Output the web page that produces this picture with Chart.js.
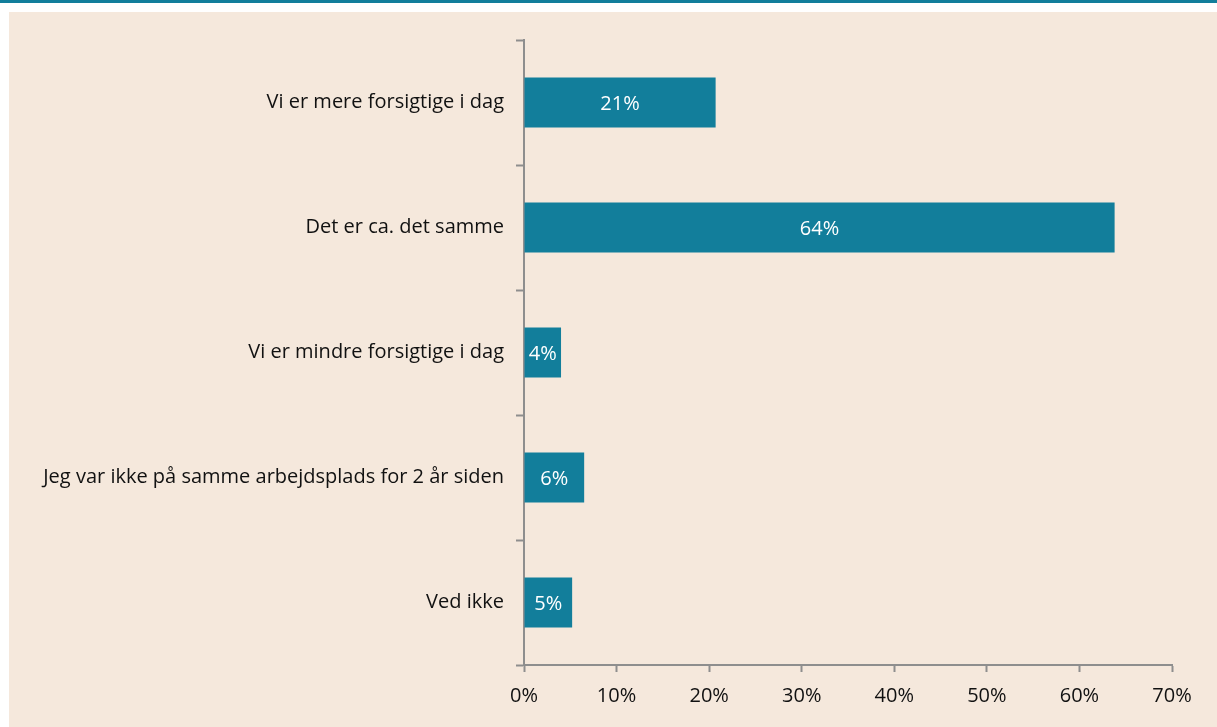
<!DOCTYPE html>
<html>
<head>
<meta charset="utf-8">
<script src="https://cdn.jsdelivr.net/npm/chart.js@4"></script>
<style>
  body { margin: 0; background: #ffffff; }
  #stripe { position: absolute; left: 0; top: 0; width: 1217px; height: 3px; background: #127e9b; }
  #panel { position: absolute; left: 9px; top: 12px; width: 1208px; height: 715px; background: #f5e8dc; }
</style>
</head>
<body>
<div id="stripe"></div>
<div id="panel"><canvas id="myChart" width="1208" height="715"></canvas></div>
<script>
const categories = [
    'Vi er mere forsigtige i dag',
    'Det er ca. det samme',
    'Vi er mindre forsigtige i dag',
    'Jeg var ikke på samme arbejdsplads for 2 år siden',
    'Ved ikke'
];
const values = [20.7, 63.8, 4.0, 6.5, 5.2];
const valueLabels = ['21%', '64%', '4%', '6%', '5%'];
const xTicks = [0, 10, 20, 30, 40, 50, 60, 70];

const FONT = "'Open Sans', 'Noto Sans', sans-serif";

// white text in the middle of each bar
const barLabels = {
    id: 'barLabels',
    afterDatasetsDraw(chart) {
        const c = chart.ctx;
        const meta = chart.getDatasetMeta(0);
        c.save();
        c.fillStyle = '#ffffff';
        c.font = '20px ' + FONT;
        c.textAlign = 'center';
        c.textBaseline = 'middle';
        meta.data.forEach((bar, i) => {
            const x = (bar.x + bar.base) / 2;
            c.fillText(valueLabels[i], x, bar.y + 2);
        });
        c.restore();
    }
};

const ctx = document.getElementById('myChart');

const myChart = new Chart(ctx, {
    type: 'bar',
    data: {
        labels: categories,
        datasets: [{
            data: values,
            backgroundColor: '#127e9b',
            borderWidth: 0,
            barPercentage: 0.4,
            categoryPercentage: 1
        }]
    },
    options: {
        indexAxis: 'y',
        responsive: false,
        animation: false,
        layout: {
            padding: { top: 28, right: 45, left: 0, bottom: 0 }
        },
        plugins: {
            legend: { display: false },
            tooltip: { enabled: false }
        },
        scales: {
            x: {
                min: 0,
                max: 70,
                afterBuildTicks(scale) {
                    scale.ticks = xTicks.map(v => ({ value: v }));
                },
                afterFit(scale) { scale.height = 62; },
                ticks: {
                    color: '#111111',
                    font: { family: FONT, size: 20 },
                    padding: 12,
                    callback: v => v + '%'
                },
                grid: {
                    drawOnChartArea: false,
                    tickLength: 7,
                    tickWidth: 2,
                    tickColor: '#8e8e8e'
                },
                border: { color: '#8e8e8e', width: 2 }
            },
            y: {
                afterFit(scale) { scale.width = 515; },
                ticks: {
                    color: '#111111',
                    font: { family: FONT, size: 20 },
                    padding: 12
                },
                grid: {
                    offset: true,
                    drawOnChartArea: false,
                    tickLength: 8,
                    tickWidth: 2,
                    tickColor: '#8e8e8e'
                },
                border: { color: '#8e8e8e', width: 2 }
            }
        }
    },
    plugins: [barLabels]
});
</script>
</body>
</html>
